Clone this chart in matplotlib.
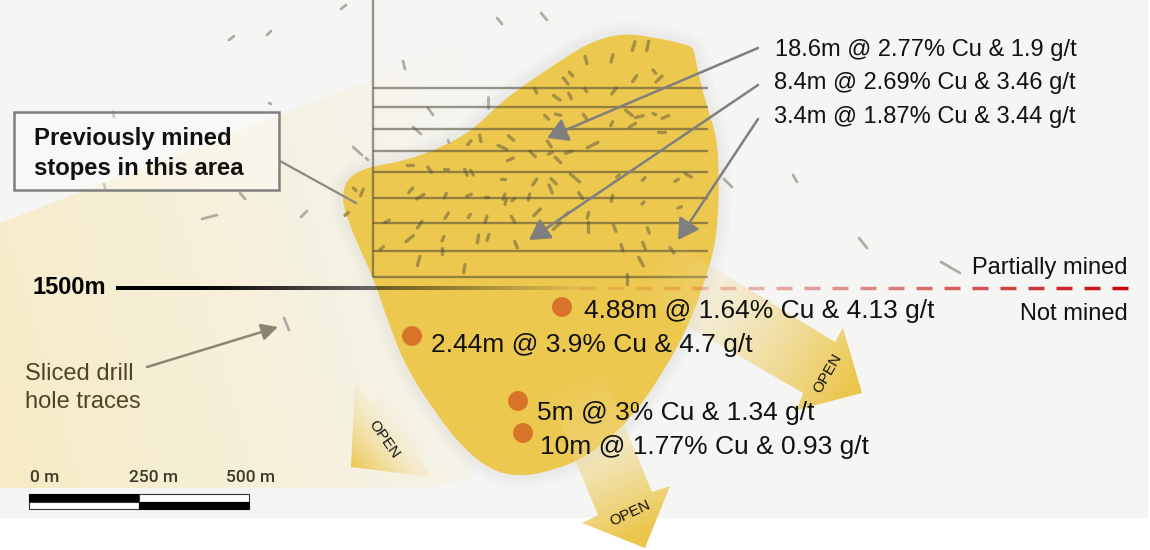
import numpy as np
import matplotlib
matplotlib.use('Agg')
import matplotlib.pyplot as plt
from matplotlib.collections import LineCollection
from matplotlib.patches import FancyArrowPatch, PathPatch, Polygon, Rectangle
from matplotlib.path import Path

plt.rcParams['font.family'] = ['Liberation Sans', 'DejaVu Sans']

# Everything below is in picture pixels (x right, y down)
ore_x = [623, 657, 680, 693, 695, 698, 707, 717, 719, 718, 714, 706, 690, 663, 630, 590, 555, 520, 490,
         460, 430, 405, 390, 373, 358, 350, 343, 343, 347, 360, 380, 407, 440, 473, 500, 527, 557, 590]
ore_y = [33, 38, 43, 47, 55, 72, 107, 137, 177, 220, 250, 277, 323, 373, 420, 455, 470, 477, 470,
         445, 405, 365, 327, 277, 245, 225, 205, 192, 180, 170, 165, 160, 148, 130, 103, 83, 63, 42]

fan_x = [0, 470, 600, 470, 430, 0]
fan_y = [223, 42, 40, 478, 488, 488]

stope_y = [88, 107, 129, 151, 172, 198, 223, 251, 277]

ore_traces = [
    (881, 78, -4, 13), (923, 78, -3, 14), (738, 120, 3, 11), (816, 115, -3, 11), (693, 162, 5, 6),
    (677, 183, 7, 9), (943, 155, 4, 5), (957, 177, -9, 9), (884, 176, -6, 9), (587, 212, 3, 7),
    (650, 233, -10, -7), (690, 228, 4, 8), (737, 210, 3, 5), (822, 213, -7, 9), (620, 292, 6, 6),
    (654, 284, 8, 2), (735, 290, 5, 7), (867, 279, -10, -8), (898, 290, -12, 3), (943, 282, 4, 2),
    (976, 291, -10, 4), (815, 311, -3, 6), (877, 316, -10, 6), (965, 337, -10, 0), (388, 368, -5, 6),
    (421, 355, 2, 10), (513, 354, -8, -7), (487, 382, -13, -6), (628, 372, -6, -9), (758, 375, -16, 8),
    (578, 402, -8, -8), (631, 400, -6, 3), (686, 397, -10, 3), (654, 420, -8, -8), (511, 418, -9, 4),
    (210, 434, -10, 0), (269, 449, -6, -8), (318, 448, -6, 0), (378, 457, -4, -9), (396, 458, -4, -7),
    (705, 474, -14, -12), (490, 476, -6, 0), (584, 486, -6, 9), (641, 484, -8, -8), (632, 507, -5, -12),
    (834, 468, -4, 3), (911, 477, -4, 4), (1010, 481, -5, 3), (1045, 466, -9, -5), (66, 517, -4, 10),
    (44, 508, 4, 4), (212, 511, -6, 7), (241, 530, -11, 7), (316, 527, -3, 7), (387, 526, -7, 3),
    (440, 532, -4, 0), (492, 530, -3, 8), (497, 545, -2, 8), (520, 539, -4, 4), (567, 531, -2, 9),
    (722, 527, -6, -9), (816, 535, -2, 9), (909, 549, -3, 3), (1019, 562, -5, 2), (20, 582, -5, 4),
    (591, 577, -10, 10), (320, 587, -5, 8), (388, 588, -3, 5), (438, 598, -3, 10), (519, 598, -5, -9),
    (744, 586, -2, 9), (680, 582, -5, 5), (141, 604, -7, 4), (239, 614, -7, 10), (651, 618, -11, 10),
    (743, 621, 0, 14), (824, 624, -4, -10), (925, 631, -3, -8), (209, 656, -11, 9), (309, 656, -3, 7),
    (414, 657, -2, 12), (444, 652, -3, 9), (528, 674, -4, -10), (125, 685, -5, 5), (307, 693, 0, 9),
    (846, 683, -3, -10), (912, 677, -4, -10), (996, 691, -6, -8), (903, 725, -7, -13), (236, 723, -4, 14),
    (373, 746, -2, 12), (861, 776, 0, 15),
]

# Traces outside the ore body, in picture pixels: x0, y0, x1, y1
outer_traces = [
    (341, 9, 346, 5), (229, 40, 234, 36), (267, 35, 271, 31), (497, 18, 502, 24), (541, 13, 547, 20),
    (269, 103, 271, 104), (113, 112, 114, 117), (403, 61, 405, 69), (488, 97, 488, 108), (428, 108, 433, 115),
    (413, 127, 421, 134), (353, 147, 362, 155), (366, 158, 368, 160), (448, 140, 449, 143), (104, 184, 105, 188),
    (240, 193, 245, 199), (202, 219, 217, 215), (301, 217, 307, 211), (724, 179, 732, 187), (793, 175, 797, 182),
    (859, 238, 867, 248), (941, 262, 960, 273), (284, 318, 289, 330),
]

callouts = ['18.6m @ 2.77% Cu & 1.9 g/t', '8.4m @ 2.69% Cu & 3.46 g/t', '3.4m @ 1.87% Cu & 3.44 g/t']
callout_x = [775, 774, 774]
callout_y = [50, 83, 117]
arrow_tail = [(758, 48), (758, 85), (758, 119)]
arrow_tip = [(547, 138), (529, 240), (678, 240)]

hole_labels = ['4.88m @ 1.64% Cu & 4.13 g/t', '2.44m @ 3.9% Cu & 4.7 g/t',
               '5m @ 3% Cu & 1.34 g/t', '10m @ 1.77% Cu & 0.93 g/t']
hole_label_x = [584, 431, 537, 540]
hole_label_y = [311, 345, 413, 447]
dot_x = [562, 412, 518, 523]
dot_y = [307, 336, 401, 433]

scale_labels = ['0 m', '250 m', '500 m']
scale_label_x = [30, 129, 226]

# OPEN arrow outlines, with where each one fades out and where it is strongest
open_arrows = [
    {'pts': [(668, 240), (835, 342), (843, 328), (862, 393), (797, 410), (803, 393), (625, 290)],
     'fade': (650, 262), 'full': (850, 385), 'text': (828, 373), 'rot': 60},
    {'pts': [(603, 373), (652, 492), (670, 486), (645, 548), (582, 523), (598, 515), (544, 385)],
     'fade': (575, 378), 'full': (640, 530), 'text': (630, 513), 'rot': 25},
    {'pts': [(455, 430), (420, 458), (432, 477), (351, 467), (355, 383), (370, 402), (400, 375)],
     'fade': (405, 420), 'full': (351, 467), 'text': (384, 439), 'rot': -55},
]


def gradient_polygon(ax, pts, start, end, c0, c1, zorder):
    # Fill a polygon with a straight colour ramp from start to end
    pts = np.array(pts, dtype=float)
    x0, y0 = pts.min(axis=0)
    x1, y1 = pts.max(axis=0)
    xx, yy = np.meshgrid(np.linspace(x0, x1, 300), np.linspace(y0, y1, 300))
    d = np.array(end, dtype=float) - np.array(start, dtype=float)
    t = ((xx - start[0]) * d[0] + (yy - start[1]) * d[1]) / (d @ d)
    t = np.clip(t, 0, 1)[..., None]
    img = np.array(c0) * (1 - t) + np.array(c1) * t
    im = ax.imshow(img, extent=(x0, x1, y1, y0), origin='upper', aspect='auto',
                   interpolation='bilinear', zorder=zorder)
    clip = Polygon(pts, closed=True, transform=ax.transData, facecolor='none', edgecolor='none')
    ax.add_patch(clip)
    im.set_clip_path(clip)


def smooth_closed_path(xs, ys):
    # Quadratic curve through the midpoints of the outline points
    pts = np.column_stack([xs, ys]).astype(float)
    mids = (pts + np.roll(pts, -1, axis=0)) / 2
    verts = [mids[-1]]
    codes = [Path.MOVETO]
    for p, m in zip(pts, mids):
        verts += [p, m]
        codes += [Path.CURVE3, Path.CURVE3]
    return Path(verts, codes)


fig = plt.figure(figsize=(11.5, 5.5), dpi=100)
ax = fig.add_axes([0, 0, 1, 1])

# Paper background and the pale fan behind the ore body
ax.add_patch(Rectangle((0, 0), 1148, 518, facecolor='#f5f5f4', edgecolor='none', zorder=0))
gradient_polygon(ax, list(zip(fan_x, fan_y)), (0, 400), (520, 250),
                 (0.97, 0.925, 0.78, 1), (0.96, 0.96, 0.95, 1), 1)

# Ore body with a soft shadow round it
ore_path = smooth_closed_path(ore_x, ore_y)
for width in [18, 12, 6]:
    ax.add_patch(PathPatch(ore_path, facecolor='none', edgecolor='#6e6e6e', lw=width, alpha=0.025, zorder=2))
ax.add_patch(PathPatch(ore_path, facecolor='#edc84f', edgecolor='none', zorder=3))

# Drill traces
inner_segs = [[(340 + (cx - dx) / 3, 20 + (cy - dy) / 3), (340 + (cx + dx) / 3, 20 + (cy + dy) / 3)]
              for cx, cy, dx, dy in ore_traces]
ax.add_collection(LineCollection(inner_segs, colors='#a38f45', linewidths=2.4, capstyle='round', zorder=4))
outer_segs = [[(a, b), (c, d)] for a, b, c, d in outer_traces]
ax.add_collection(LineCollection(outer_segs, colors='#aeaca5', linewidths=2.0, capstyle='round', zorder=4))

# Stope levels and the shaft
ax.hlines(stope_y, 373, 708, colors='#4a4535', linewidth=1.7, alpha=0.55, zorder=5)
ax.vlines(373, 0, 277, colors='#4a4535', linewidth=1.7, alpha=0.55, zorder=5)

# OPEN arrows fade in towards the tip
for arrow in open_arrows:
    gradient_polygon(ax, arrow['pts'], arrow['fade'], arrow['full'],
                     (0.96, 0.90, 0.70, 0.0), (0.925, 0.78, 0.31, 1.0), 6)
    ax.text(arrow['text'][0], arrow['text'][1], 'OPEN', fontsize=11, rotation=arrow['rot'],
            rotation_mode='anchor', ha='center', va='center', color='#111111', zorder=10)

# 1500m level: solid black fading out, then dashes turning red
gradient_polygon(ax, [(116, 286), (600, 286), (600, 290.5), (116, 290.5)], (200, 288), (600, 288),
                 (0, 0, 0, 1), (0, 0, 0, 0), 7)
dash_start = np.arange(1112, 570, -28)
dash_segs = [[(a, 288), (a + 16, 288)] for a in dash_start]
dash_colors = []
for a in dash_start:
    t = (a - 570) / (1112 - 570)
    dash_colors.append((0.78, 0.02 + 0.1 * (1 - t), 0.05, 0.12 + 0.88 * t ** 1.4))
ax.add_collection(LineCollection(dash_segs, colors=dash_colors, linewidths=2.5, capstyle='butt', zorder=7))

# Orange hole markers
ax.scatter(dot_x, dot_y, s=205, color='#d8732a', edgecolors='none', zorder=8)

# Grey arrows to the upper intersections
for tail, tip in zip(arrow_tail, arrow_tip):
    ax.add_patch(FancyArrowPatch(tail, tip, arrowstyle='-|>,head_length=0.48,head_width=0.28', mutation_scale=26,
                                 shrinkA=0, shrinkB=0, color='#7f7f7f', lw=1.8, zorder=9))
ax.add_patch(FancyArrowPatch((147, 367), (278, 327), arrowstyle='-|>,head_length=0.45,head_width=0.23',
                             mutation_scale=22, shrinkA=0, shrinkB=0, color='#8b8472', lw=1.8, zorder=9))

# Box and its leader
ax.add_patch(Rectangle((14, 112), 265, 78, facecolor=(1, 1, 1, 0.35), edgecolor='#7f7f7f', lw=1.8, zorder=9))
ax.plot([280, 356], [161, 203], color='#8a8a80', lw=1.6, zorder=9)
ax.text(34, 139, 'Previously mined', fontsize=17.2, fontweight='bold', va='center', color='#111111', zorder=10)
ax.text(34, 168, 'stopes in this area', fontsize=17.2, fontweight='bold', va='center', color='#111111', zorder=10)

# Text labels
for label, x, y in zip(callouts, callout_x, callout_y):
    ax.text(x, y, label, fontsize=17, va='center', color='#111111', zorder=10)
for label, x, y in zip(hole_labels, hole_label_x, hole_label_y):
    ax.text(x, y, label, fontsize=19, va='center', color='#111111', zorder=10)
ax.text(33, 288, '1500m', fontsize=17, fontweight='bold', va='center', color='black', zorder=10)
ax.text(1128, 268, 'Partially mined', fontsize=17, ha='right', va='center', color='#111111', zorder=10)
ax.text(1128, 314, 'Not mined', fontsize=17, ha='right', va='center', color='#111111', zorder=10)
ax.text(25, 374, 'Sliced drill', fontsize=17, va='center', color='#4d4528', zorder=10)
ax.text(25, 402, 'hole traces', fontsize=17, va='center', color='#4d4528', zorder=10)

# Scale bar
for label, x in zip(scale_labels, scale_label_x):
    ax.text(x, 478, label, fontsize=12.5, family='Roboto', fontweight='medium', va='center', color='#3d3a2a', zorder=10)
ax.add_patch(Rectangle((29, 494), 110, 7.5, facecolor='black', edgecolor='black', lw=0.8, zorder=9))
ax.add_patch(Rectangle((139, 494), 110, 7.5, facecolor='white', edgecolor='#333333', lw=0.8, zorder=9))
ax.add_patch(Rectangle((29, 501.5), 110, 7.5, facecolor='white', edgecolor='#333333', lw=0.8, zorder=9))
ax.add_patch(Rectangle((139, 501.5), 110, 7.5, facecolor='black', edgecolor='black', lw=0.8, zorder=9))

ax.set_xlim(0, 1150)
ax.set_ylim(550, 0)
ax.axis('off')

fig.savefig('out.png', dpi=100)
